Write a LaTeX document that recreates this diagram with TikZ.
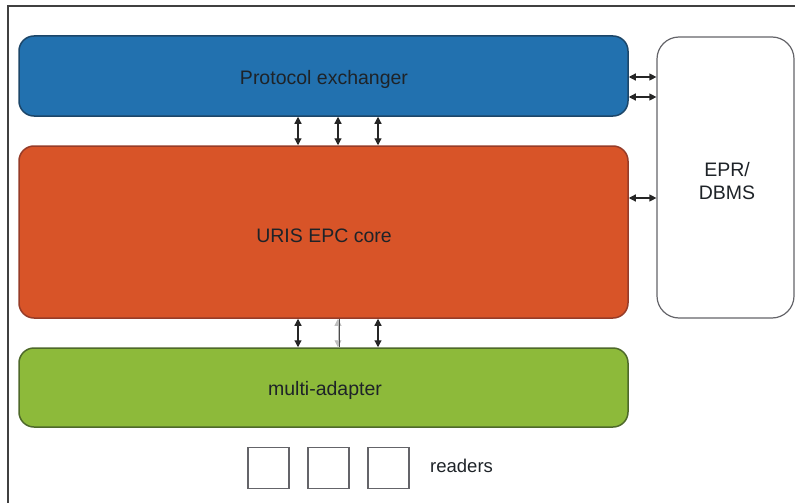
\documentclass[tikz,border=0pt]{standalone}
\usepackage{fontspec}
\setmainfont{Liberation Sans}
\usetikzlibrary{arrows.meta,calc}
\definecolor{bluefill}{RGB}{34,113,175}
\definecolor{blueedge}{RGB}{28,70,105}
\definecolor{orangefill}{RGB}{216,84,40}
\definecolor{orangeedge}{RGB}{150,60,40}
\definecolor{greenfill}{RGB}{141,186,58}
\definecolor{greenedge}{RGB}{78,105,42}
\definecolor{txt}{RGB}{30,35,40}
\definecolor{edgegray}{RGB}{100,100,105}
\begin{document}
\begin{tikzpicture}[x=1pt,y=-1pt,
  layer/.style={draw, line width=1.5pt, rounded corners=15pt, minimum width=609pt, inner sep=0pt},
  lbl/.style={text=txt, font=\fontsize{19.5}{23}\selectfont, inner sep=0pt, align=center},
  side/.style={draw=edgegray, line width=1.2pt, rounded corners=22pt, fill=white, inner sep=0pt},
  reader/.style={draw=edgegray, line width=1.3pt, minimum width=41pt, minimum height=41pt, inner sep=0pt},
  biarrow/.style={line width=1.2pt, draw=black!85, fill=black!85, {Triangle[length=7pt,width=7pt]}-{Triangle[length=7pt,width=7pt]}},
  ghost/.style={line width=0.8pt, draw=black!25, fill=black!25, {Triangle[length=7pt,width=7pt]}-{Triangle[length=7pt,width=7pt]}},
  frameline/.style={draw=black!75, line width=1.5pt}]
\useasboundingbox (0,0) rectangle (795,503);
\draw[frameline] (795,6) -- (8,6) -- (8,503);

\node[layer, fill=bluefill, draw=blueedge, minimum height=80pt] (proto) at (323.5,76) {};
\node[layer, fill=orangefill, draw=orangeedge, minimum height=172pt] (core) at (323.5,232) {};
\node[layer, fill=greenfill, draw=greenedge, minimum height=79pt] (multi) at (323.5,387.5) {};
\node[side, minimum width=137pt, minimum height=281pt] (epr) at (725.5,177.5) {};

\node[lbl] (protolbl) at (324,79) {Protocol exchanger};
\node[lbl] (corelbl) at (324,236) {URIS EPC core};
\node[lbl] (multilbl) at (325,390) {multi-adapter};
\node[lbl] (eprlbl) at (727,181) {EPR/\\DBMS};

\node[reader] (r1) at (268.5,468) {};
\node[reader] (r2) at (328.5,468) {};
\node[reader] (r3) at (388.5,468) {};
\node[text=txt, font=\fontsize{18.5}{22}\selectfont, anchor=west, inner sep=0pt] (rd) at (430,466) {readers};

% protocol <-> core
\foreach \dx in {-25.5,14.5,54.5}
  \draw[biarrow] ([xshift=\dx pt]proto.south) -- ([xshift=\dx pt]core.north);
% core <-> multi
\draw[biarrow] ([xshift=-25.5pt]core.south) -- ([xshift=-25.5pt]multi.north);
\draw[ghost] ([xshift=14.5pt]core.south) -- ([xshift=14.5pt]multi.north);
\draw[line width=0.6pt, black!70] ([xshift=15.5pt]core.south) -- ([xshift=15.5pt]multi.north);
\draw[biarrow] ([xshift=54.5pt]core.south) -- ([xshift=54.5pt]multi.north);
% right side
\draw[biarrow] ([yshift=-1pt]proto.east) -- ([yshift=-1pt]proto.east -| epr.west);
\draw[biarrow] ([yshift=-21pt]proto.east) -- ([yshift=-21pt]proto.east -| epr.west);
\draw[biarrow] ([yshift=34pt]core.east) -- ([yshift=34pt]core.east -| epr.west);
\end{tikzpicture}
\end{document}
